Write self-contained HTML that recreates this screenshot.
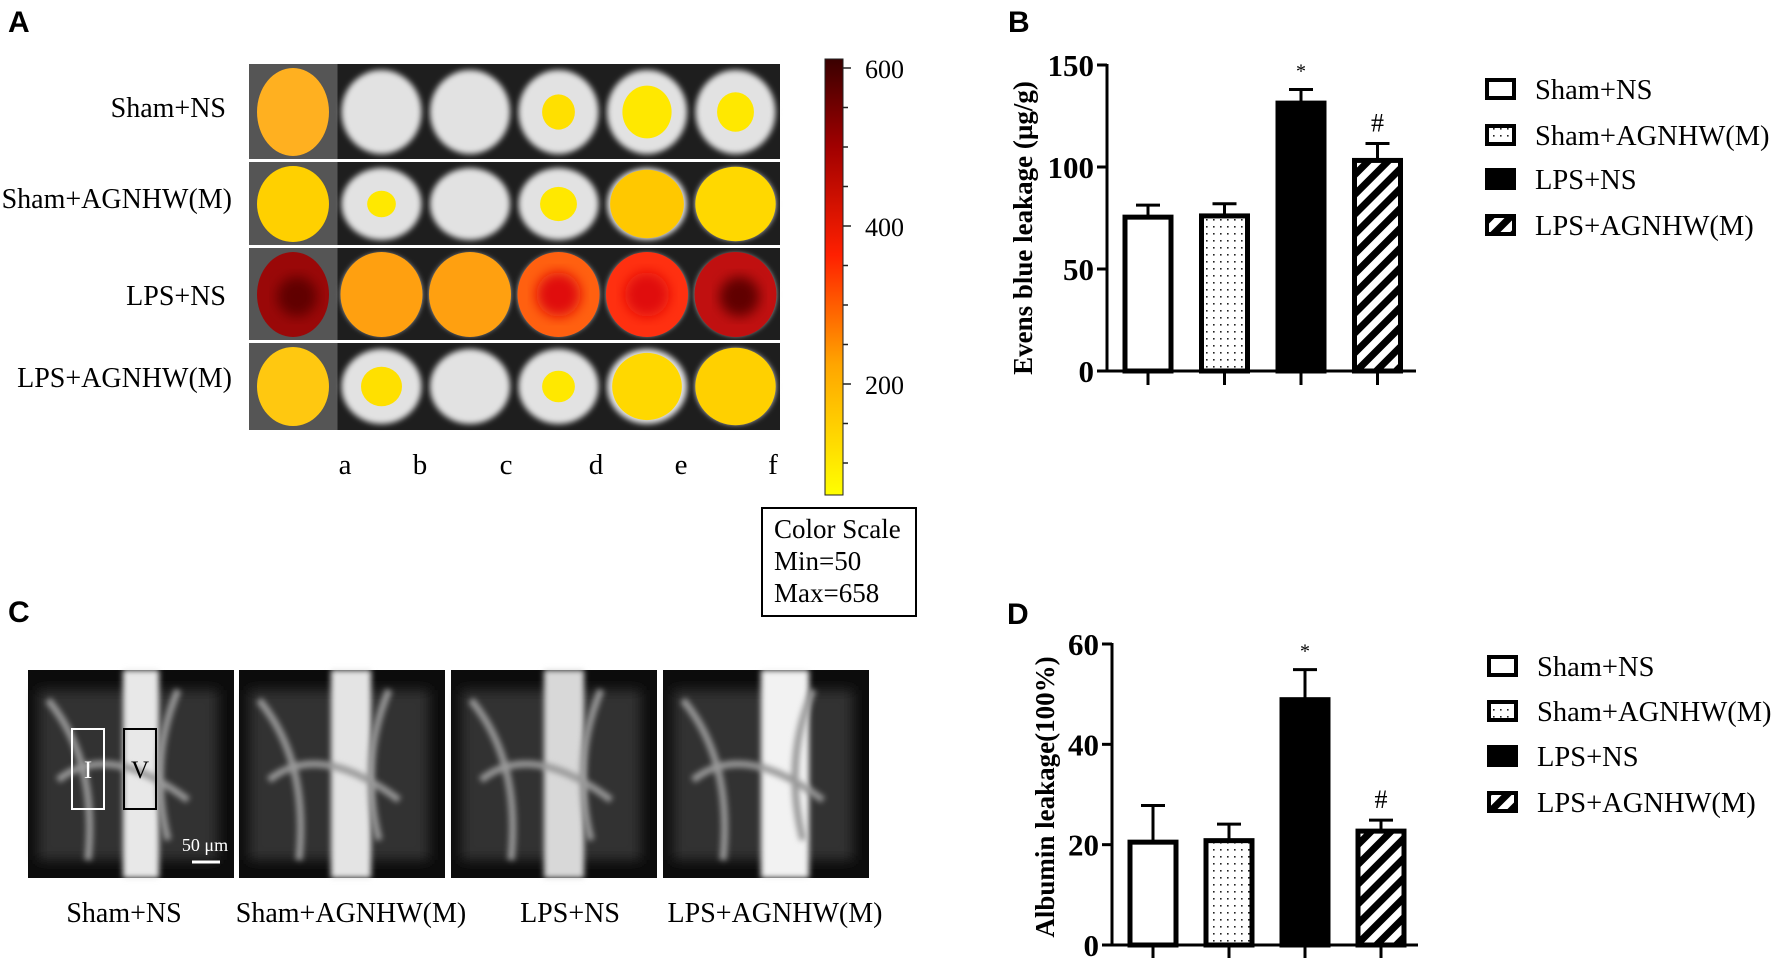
<!DOCTYPE html>
<html><head><meta charset="utf-8">
<style>
body{margin:0;background:#fff;}
svg{display:block;font-family:"Liberation Serif",serif;}
.pl{font-family:"Liberation Sans",sans-serif;font-weight:bold;font-size:30px;}
</style></head>
<body>
<svg id="fig" width="1772" height="958" viewBox="0 0 1772 958" xmlns="http://www.w3.org/2000/svg">
<defs>
<filter id="bl" x="-20%" y="-20%" width="140%" height="140%"><feGaussianBlur stdDeviation="3"/></filter>
<filter id="bl2" x="-20%" y="-20%" width="140%" height="140%"><feGaussianBlur stdDeviation="6"/></filter>
<linearGradient id="cbar" x1="0" y1="1" x2="0" y2="0">
<stop offset="0" stop-color="#ffff00"/><stop offset="0.3" stop-color="#ffa500"/><stop offset="0.55" stop-color="#ff2000"/><stop offset="0.8" stop-color="#a00000"/><stop offset="1" stop-color="#3a0000"/></linearGradient>
<pattern id="dots" width="7" height="7" patternUnits="userSpaceOnUse"><rect width="7" height="7" fill="#fff"/><rect x="2" y="2" width="1.6" height="1.6" fill="#222"/></pattern>
<pattern id="stripes" width="14" height="14" patternUnits="userSpaceOnUse" patternTransform="rotate(45)"><rect width="14" height="14" fill="#fff"/><rect width="7" height="14" fill="#000"/></pattern>
</defs>

<text class="pl" x="8" y="32">A</text>
<text class="pl" x="1008" y="32">B</text>
<text class="pl" x="8" y="622">C</text>
<text class="pl" x="1007" y="624">D</text>

<g id="panelA"></g>
<g font-size="28" text-anchor="end">
<text x="226" y="117">Sham+NS</text><text x="232" y="208">Sham+AGNHW(M)</text>
<text x="226" y="305">LPS+NS</text><text x="232" y="387">LPS+AGNHW(M)</text>
</g>
<g font-size="29" text-anchor="middle">
<text x="345" y="474">a</text><text x="420" y="474">b</text><text x="506" y="474">c</text><text x="596" y="474">d</text><text x="681" y="474">e</text><text x="773" y="474">f</text>
</g>
<g>
<rect x="825" y="59" width="18" height="436" fill="url(#cbar)" stroke="#222" stroke-width="1"/>
<g id="cbticks" stroke="#222" stroke-width="1.5"></g>
<g font-size="26"><text x="865" y="78">600</text><text x="865" y="236">400</text><text x="865" y="394">200</text></g>
</g>
<g>
<rect x="762" y="508" width="154" height="108" fill="#fff" stroke="#000" stroke-width="2"/>
<g font-size="27"><text x="774" y="538">Color Scale</text><text x="774" y="570">Min=50</text><text x="774" y="602">Max=658</text></g>
</g>

<g id="panelC"></g>
<g font-size="28" text-anchor="middle">
<text x="124" y="922">Sham+NS</text><text x="351" y="922">Sham+AGNHW(M)</text><text x="570" y="922">LPS+NS</text><text x="775" y="922">LPS+AGNHW(M)</text>
</g>

<g id="chartB"></g>
<g id="chartD"></g>
</svg>
<script>
const NS="http://www.w3.org/2000/svg";
function mk(p,t,a){const e=document.createElementNS(NS,t);for(const k in a)e.setAttribute(k,a[k]);p.appendChild(e);return e;}

// colorbar minor ticks
const cbt=document.getElementById('cbticks');
for(let v=100;v<=600;v+=50){const yy=384-(v-200)*158/200;mk(cbt,'line',{x1:843,x2:v%200==0?851:848,y1:yy,y2:yy});}

// ---------- Panel A brain images ----------
const A=document.getElementById('panelA');
const rowsY=[[64,160],[162,246],[248,341],[343,430]];
const heat=[["#ffb020","","","#ffe000","#ffe800","#ffe800"],
            ["#ffd000","#ffe800","","#ffe800","#ffc800","#ffd800"],
            ["#9a0808","#ffa010","#ffa010","#ff6010","#ff3010","#c01010"],
            ["#ffc810","#ffe000","","#ffe800","#ffd800","#ffd000"]];
const heatSize=[[1,0,0,0.4,0.6,0.45],[1,0.35,0,0.45,0.9,0.98],[1,1,1,1,1,1],[1,0.5,0,0.4,0.85,0.98]];
mk(A,'rect',{x:249,y:64,width:531,height:366,fill:'#2a2a2a'});
rowsY.forEach((r,ri)=>{
  for(let c=0;c<6;c++){
    const x0=249+c*88.5, cx=x0+44, cy=(r[0]+r[1])/2, ry=(r[1]-r[0])/2-6;
    mk(A,'rect',{x:x0,y:r[0],width:88.5,height:r[1]-r[0],fill:c==0?'#555':'#1e1e1e'});
    if(c>0) mk(A,'ellipse',{cx:cx,cy:cy,rx:40,ry:ry,fill:'#e2e2e2',filter:'url(#bl)'});
    const h=heat[ri][c];
    if(h){const s=heatSize[ri][c];
      const el=mk(A,'ellipse',{cx:cx,cy:cy,rx:(c==0?36:41)*s,ry:(ry+2)*s,fill:h});
      
      
      if(ri==2&&(c==0||c==5)) mk(A,'ellipse',{cx:cx+4,cy:cy+2,rx:20,ry:20,fill:'#600000',filter:'url(#bl2)'});
      if(ri==2&&(c==3||c==4)) mk(A,'ellipse',{cx:cx,cy:cy,rx:22,ry:22,fill:'#e01010',filter:'url(#bl2)'});
    }
  }
});
[160,246,341].forEach(y=>mk(A,'line',{x1:249,x2:780,y1:y+0.5,y2:y+0.5,stroke:'#fff','stroke-width':3}));

// ---------- Panel C microscopy ----------
const C=document.getElementById('panelC');
const imgX=[28,239,451,663];
imgX.forEach((x,i)=>{
  const g=mk(C,'g',{});
  mk(g,'rect',{x:x,y:670,width:206,height:208,fill:'#0c0c0c'});
  mk(g,'rect',{x:x+10,y:690,width:180,height:170,fill:'#333',filter:'url(#bl2)'});
  const vx=[x+95,x+92,x+93,x+98][i], vw=[36,40,40,48][i];
  mk(g,'rect',{x:vx,y:670,width:vw,height:208,fill:['#e8e8e8','#e4e4e4','#d8d8d8','#f2f2f2'][i],filter:'url(#bl)'});
  mk(g,'path',{d:`M${x+20} ${700} Q${x+70} ${760} ${x+60} ${860} M${x+150} ${690} Q${x+120} ${760} ${x+140} ${840} M${x+30} ${780} Q${x+80} ${740} ${x+160} ${800}`,stroke:'#999','stroke-width':7,fill:'none',filter:'url(#bl)'});
});
mk(C,'rect',{x:72,y:729,width:32,height:80,fill:'none',stroke:'#fff','stroke-width':2});
mk(C,'rect',{x:124,y:729,width:32,height:80,fill:'none',stroke:'#000','stroke-width':2});
mk(C,'text',{x:88,y:778,'font-size':25,fill:'#fff','text-anchor':'middle'}).textContent='I';
mk(C,'text',{x:140,y:778,'font-size':25,fill:'#000','text-anchor':'middle'}).textContent='V';
mk(C,'text',{x:205,y:851,'font-size':18,fill:'#fff','text-anchor':'middle'}).textContent='50 μm';
mk(C,'line',{x1:192,x2:220,y1:862,y2:862,stroke:'#fff','stroke-width':3});

// ---------- Bar charts ----------
const groups=["Sham+NS","Sham+AGNHW(M)","LPS+NS","LPS+AGNHW(M)"];
const fills=["#fff","url(#dots)","#000","url(#stripes)"];
const evansMean=[76.4,77,132.3,104.2];
const evansErr=[4.9,5,5.7,7.3];
const evansTicks=[0,50,100,150];
const evansMarks=["","","*","#"];
const albMean=[20.9,21.2,49.3,23.1];
const albErr=[6.9,2.9,5.6,1.8];
const albTicks=[0,20,40,60];
const albMarks=["","","*","#"];

function chart(root,o){
  const y=v=>o.y0-(v-o.min)/(o.max-o.min)*(o.y0-o.y1);
  const bx=i=>o.x0+16+i*o.step;
  mk(root,'line',{x1:o.x0,x2:o.x0,y1:y(o.max)-1,y2:o.y0,stroke:'#000','stroke-width':3});
  mk(root,'line',{x1:o.x0-1,x2:o.xend,y1:o.y0,y2:o.y0,stroke:'#000','stroke-width':3});
  o.ticks.forEach(t=>{
    mk(root,'line',{x1:o.x0-10,x2:o.x0,y1:y(t),y2:y(t),stroke:'#000','stroke-width':3});
    const tx=mk(root,'text',{x:o.x0-13,y:y(t)+11,'font-size':31,'font-weight':'bold','text-anchor':'end'});
    tx.textContent=t;
    
    
  });
  o.mean.forEach((m,i)=>{
    const x=bx(i), w=o.bw, cx=x+w/2;
    mk(root,'line',{x1:cx,x2:cx,y1:y(m),y2:y(m+o.err[i]),stroke:'#000','stroke-width':3});
    mk(root,'line',{x1:cx-12,x2:cx+12,y1:y(m+o.err[i]),y2:y(m+o.err[i]),stroke:'#000','stroke-width':3});
    const r=mk(root,'rect',{x:x+2,y:y(m)+2,width:w-4,height:o.y0-y(m)-2,fill:fills[i],stroke:'#000','stroke-width':5});
    
    
    mk(root,'line',{x1:cx,x2:cx,y1:o.y0,y2:o.y0+14,stroke:'#000','stroke-width':3});
    if(o.marks[i]){const s=mk(root,'text',{x:cx,y:y(m+o.err[i])-12,'font-size':o.marks[i]=='*'?20:26,'text-anchor':'middle'});s.textContent=o.marks[i];
      
      }
  });
  const t=mk(root,'text',{transform:`translate(${o.tx},${o.ty}) rotate(-90)`,'font-size':o.tfs,'font-weight':'bold','text-anchor':'middle'});
  t.textContent=o.title;
  
  
  groups.forEach((g,i)=>{
    const ly=o.ly[i];
    const lg=mk(root,'g',{});
    
    
    mk(lg,'rect',{x:o.lx+2,y:ly-9,width:27,height:18,fill:fills[i],stroke:'#000','stroke-width':4});
    const lt=mk(lg,'text',{x:o.lx+50,y:ly+10,'font-size':28.5});lt.textContent=g;
  });
}
chart(document.getElementById('chartB'),{x0:1107,xend:1416,y0:371,y1:65,min:0,max:150,step:76.5,bw:50,
  mean:evansMean,err:evansErr,ticks:evansTicks,marks:evansMarks,title:"Evens blue leakage (µg/g)",tfs:27,tx:1032,ty:228,lx:1485,ly:[89,135,179,225]});
chart(document.getElementById('chartD'),{x0:1112,xend:1418,y0:945,y1:644,min:0,max:60,step:76,bw:50,
  mean:albMean,err:albErr,ticks:albTicks,marks:albMarks,title:"Albumin leakage(100%)",tfs:27,tx:1054,ty:797,lx:1487,ly:[666,711,756,802]});
</script>
</body></html>
